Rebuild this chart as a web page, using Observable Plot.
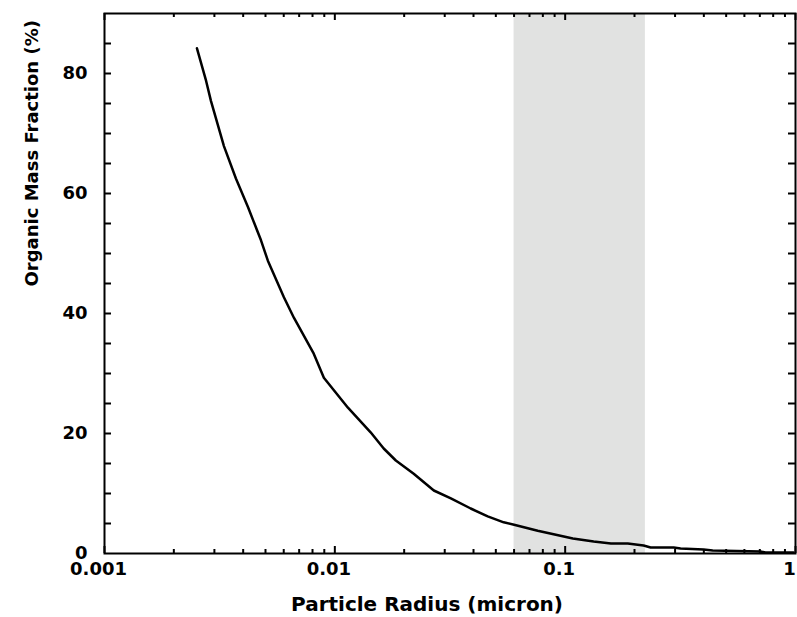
<!DOCTYPE html>
<html><head><meta charset="utf-8">
<script src="https://cdn.jsdelivr.net/npm/d3@7"></script>
<script src="https://cdn.jsdelivr.net/npm/@observablehq/plot@0.6"></script>
<style>html,body{margin:0;padding:0;background:#fff;}</style>
</head><body><div id="chart"></div>
<script>
// Curve values
const radius = [0.00252, 0.00276, 0.0029, 0.0033, 0.00372, 0.0042, 0.00478, 0.00512, 0.00601, 0.00664, 0.0081, 0.00896, 0.0114, 0.0143, 0.0163, 0.0184, 0.022, 0.0269, 0.0319, 0.0389, 0.0461, 0.0541, 0.06, 0.076, 0.0891, 0.108, 0.133, 0.158, 0.187, 0.219, 0.235, 0.296, 0.317, 0.399, 0.437, 0.705, 0.741, 0.98];
const fraction = [84.2, 78.8, 75.4, 67.9, 62.5, 57.7, 52.2, 48.8, 42.7, 39.3, 33.3, 29.3, 24.3, 20.2, 17.5, 15.5, 13.3, 10.5, 9.2, 7.5, 6.2, 5.2, 4.8, 3.8, 3.2, 2.5, 2.0, 1.67, 1.67, 1.33, 1.0, 1.0, 0.83, 0.67, 0.5, 0.33, 0.17, 0.17];

// Shaded radius band
const bandStart = [0.06];
const bandEnd = [0.223];

// Axes
const xMajorTicks = [0.001, 0.01, 0.1, 1];
const xTickLabels = ["0.001", "0.01", "0.1", "1"];
const xMinorTicks = [0.002, 0.003, 0.004, 0.005, 0.006, 0.007, 0.008, 0.009,
                     0.02, 0.03, 0.04, 0.05, 0.06, 0.07, 0.08, 0.09,
                     0.2, 0.3, 0.4, 0.5, 0.6, 0.7, 0.8, 0.9];
const yMajorTicks = [0, 20, 40, 60, 80];
const yTickLabels = ["0", "20", "40", "60", "80"];
const yMinorTicks = [5, 10, 15, 20, 25, 30, 35, 40, 45, 50, 55, 60, 65, 70, 75, 80, 85];
const xTitle = "Particle Radius (micron)";
const yTitle = "Organic Mass Fraction (%)";

const curve = radius.map((r, i) => ({r, f: fraction[i]}));
const band = bandStart.map((s, i) => ({s, e: bandEnd[i]}));

const W = 797, H = 617, ML = 104, MR = 2, MT = 13, MB = 64;
const FW = W - ML - MR, FH = H - MT - MB;
const font = "DejaVu Sans";
const tk = {stroke: "black", strokeWidth: 2};

const chart = Plot.plot({
  width: W,
  height: H,
  marginLeft: ML,
  marginRight: MR,
  marginTop: MT,
  marginBottom: MB,
  style: {fontFamily: font, background: "white", overflow: "visible"},
  x: {type: "log", domain: [0.001, 1], label: null, axis: null},
  y: {domain: [0, 90], label: null, axis: null},
  marks: [
    Plot.rect(band, {x1: "s", x2: "e", fill: "#e1e2e1"}),
    Plot.line(curve, {x: "r", y: "f", stroke: "black", strokeWidth: 2.5}),
    Plot.frame({stroke: "black", strokeWidth: 2}),
    // inward ticks: bottom / top
    Plot.ruleX(xMinorTicks, {x: d => d, insetTop: FH - 4, ...tk}),
    Plot.ruleX(xMajorTicks, {x: d => d, insetTop: FH - 7, ...tk}),
    Plot.ruleX(xMinorTicks, {x: d => d, insetBottom: FH - 4, ...tk}),
    Plot.ruleX(xMajorTicks, {x: d => d, insetBottom: FH - 7, ...tk}),
    // inward ticks: left / right
    Plot.ruleY(yMinorTicks, {y: d => d, insetRight: FW - 7, ...tk}),
    Plot.ruleY(yMinorTicks, {y: d => d, insetLeft: FW - 7, ...tk}),
    // tick labels
    Plot.axisX({anchor: "bottom", ticks: xMajorTicks, tickSize: 0, tickPadding: 9, dx: -6,
      tickFormat: d => xTickLabels[xMajorTicks.indexOf(d)], label: null,
      fontSize: 18, fontWeight: "bold", fill: "black"}),
    Plot.axisY({anchor: "left", ticks: yMajorTicks, tickSize: 0, tickPadding: 17,
      tickFormat: d => yTickLabels[yMajorTicks.indexOf(d)], label: null,
      fontSize: 18, fontWeight: "bold", fill: "black"}),
    // axis titles
    Plot.text([xTitle], {frameAnchor: "bottom", lineAnchor: "bottom", dx: -23, dy: 57,
      fontSize: 20, fontWeight: "bold", fill: "black"}),
    Plot.text([yTitle], {frameAnchor: "left", rotate: -90, lineAnchor: "middle", dx: -72, dy: 3,
      fontSize: 18, fontWeight: "bold", fill: "black"})
  ]
});
document.getElementById("chart").appendChild(chart);
</script>
</body></html>
